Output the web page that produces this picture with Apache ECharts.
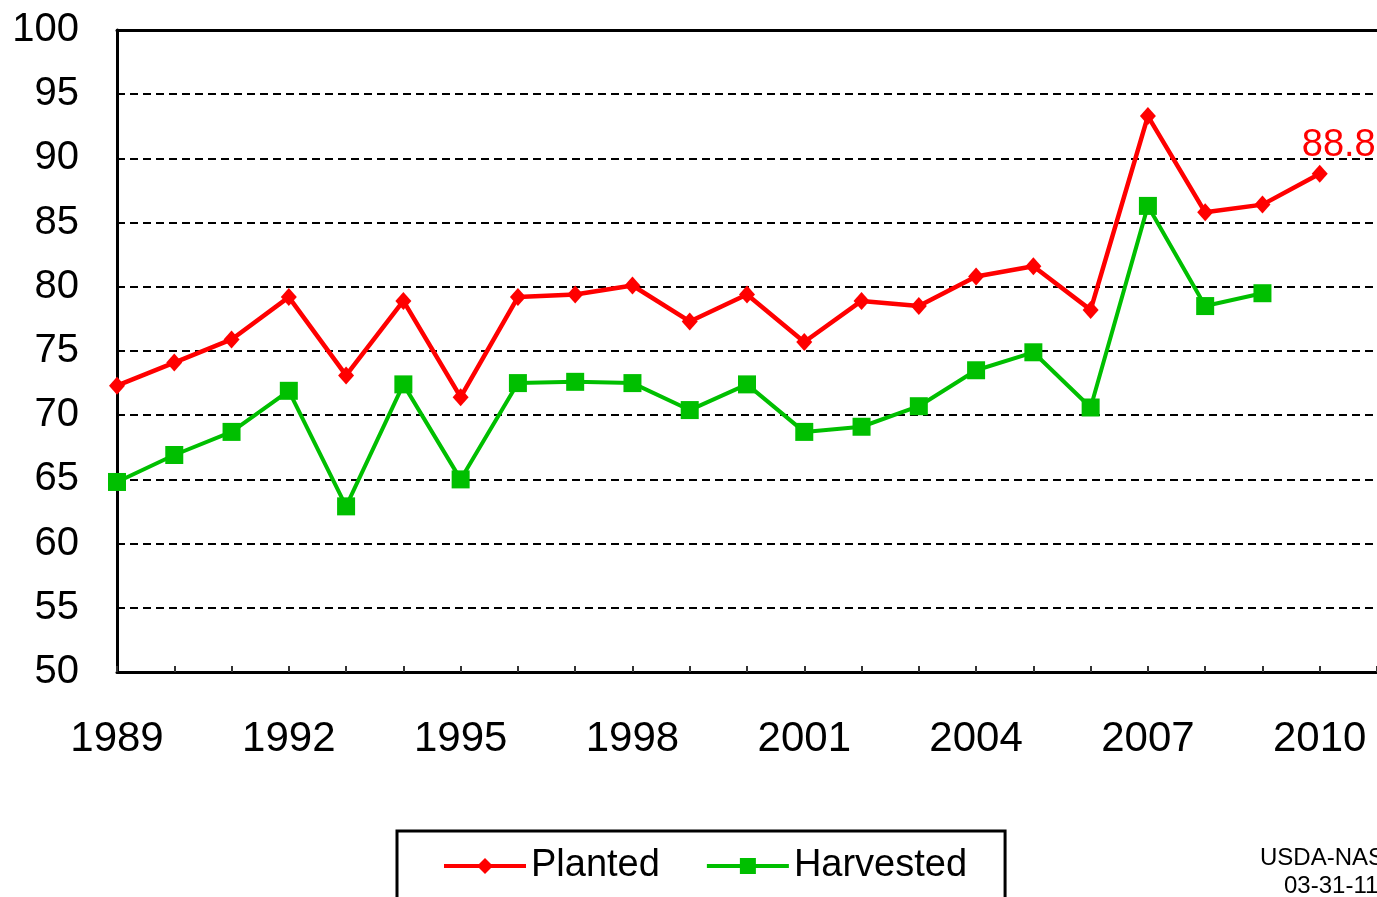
<!DOCTYPE html>
<html>
<head>
<meta charset="utf-8">
<script src="https://cdn.jsdelivr.net/npm/echarts@6/dist/echarts.min.js"></script>
<style>
  html, body { margin:0; padding:0; background:#fff; }
  #chart { width:1377px; height:897px; }
</style>
</head>
<body>
<div id="chart"></div>
<script>
// === Datos ===
const years     = [1989,1990,1991,1992,1993,1994,1995,1996,1997,1998,1999,2000,2001,2002,2003,2004,2005,2006,2007,2008,2009,2010];
const planted   = [72.3,74.1,75.9,79.2,73.1,78.9,71.4,79.2,79.4,80.1,77.3,79.4,75.7,78.9,78.5,80.8,81.6,78.2,93.3,85.8,86.4,88.8];
const harvested = [64.8,66.9,68.7,71.9,62.9,72.4,65.0,72.5,72.6,72.5,70.4,72.4,68.7,69.1,70.7,73.5,74.9,70.6,86.3,78.5,79.5];
const yTicks    = { min:50, max:100, step:5 };
const xRange    = { min:1989, max:2011, step:1, labelEvery:3 };

// === Paleta ===
const red = '#ff0000', green = '#00bf00', ink = '#000';
const font = 'Liberation Sans, Arial, sans-serif';

const plantedData = years.map((y,i)=>{
  const p = { value:[y, planted[i]] };
  if(i === years.length-1){
    p.label = { show:true, position:'top', distance:0, offset:[19,0],
      formatter: planted[i].toFixed(1), color:red, fontSize:38, fontFamily:font };
  }
  return p;
});
const harvestedData = harvested.map((v,i)=>[years[i], v]);

const chart = echarts.init(document.getElementById('chart'));
chart.setOption({
  animation:false,
  grid:{ left:117, right:0, top:30, bottom:225, outerBoundsMode:'none' },
  xAxis:[{
    type:'value', min:xRange.min, max:xRange.max, interval:xRange.step,
    axisLine:{ show:true, lineStyle:{ color:ink, width:3 } },
    axisTick:{ show:true, inside:true, length:6, lineStyle:{ color:'#333', width:2 } },
    axisLabel:{ margin:46, color:ink, fontSize:42, fontFamily:font,
      formatter: v => ((v - xRange.min) % xRange.labelEvery === 0 && v < xRange.max) ? String(v) : '' },
    splitLine:{ show:false }
  },{
    // marco superior
    type:'value', position:'top', min:xRange.min, max:xRange.max,
    axisLine:{ show:true, lineStyle:{ color:ink, width:3 } },
    axisTick:{ show:false }, axisLabel:{ show:false }, splitLine:{ show:false }
  }],
  yAxis:{
    type:'value', min:yTicks.min, max:yTicks.max, interval:yTicks.step,
    axisLine:{ show:true, lineStyle:{ color:ink, width:3 } },
    axisTick:{ show:false },
    axisLabel:{ margin:38, color:ink, fontSize:40, fontFamily:font },
    splitLine:{ show:true, lineStyle:{ color:ink, width:2, type:[8,5] } }
  },
  legend:{
    left:397, top:831, orient:'horizontal', selectedMode:false,
    itemWidth:82, itemHeight:20, itemGap:45,
    padding:[16,38,40,45],
    borderColor:ink, borderWidth:3,
    textStyle:{ color:ink, fontSize:38, fontFamily:font },
    data:[
      { name:'Planted', lineStyle:{ width:4 } },
      { name:'Harvested', lineStyle:{ width:4 } }
    ]
  },
  graphic:[
    { type:'text', left:1260, top:846, style:{ text:'USDA-NASS', fontSize:24, fontFamily:font, fill:ink } },
    { type:'text', left:1284, top:874, style:{ text:'03-31-11', fontSize:24, fontFamily:font, fill:ink } }
  ],
  series:[
    { name:'Planted', type:'line', data:plantedData,
      symbol:'diamond', symbolSize:[16,18],
      lineStyle:{ color:red, width:4.5 }, itemStyle:{ color:red }, z:3 },
    { name:'Harvested', type:'line', data:harvestedData,
      symbol:'rect', symbolSize:18,
      lineStyle:{ color:green, width:4 }, itemStyle:{ color:green }, z:2 }
  ]
});
</script>
</body>
</html>
